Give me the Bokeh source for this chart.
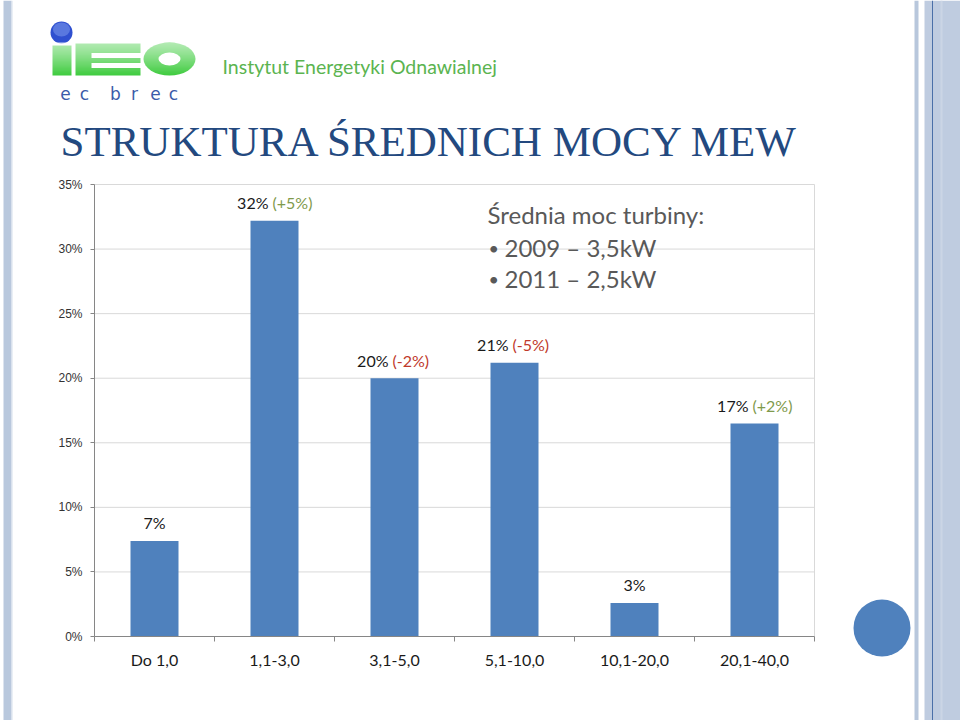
import numpy as np
from bokeh.plotting import figure
from bokeh.models import (Range1d, FixedTicker, PrintfTickFormatter, Label, ColumnDataSource)
from bokeh.core.properties import value
from bokeh.embed import file_html
from bokeh.resources import INLINE

# ---------------- data ----------------
categories = ["Do 1,0", "1,1-3,0", "3,1-5,0", "5,1-10,0", "10,1-20,0", "20,1-40,0"]
shares = [7.4, 32.2, 20.0, 21.2, 2.6, 16.5]
share_labels = ["7%", "32%", "20%", "21%", "3%", "17%"]
change_labels = ["", "(+5%)", "(-2%)", "(-5%)", "", "(+2%)"]
y_ticks = [0, 5, 10, 15, 20, 25, 30, 35]
title_text = "STRUKTURA ŚREDNICH MOCY MEW"
note_title = "Średnia moc turbiny:"
note_items = ["2009 – 3,5kW", "2011 – 2,5kW"]
org_name = "Instytut Energetyki Odnawialnej"
logo_sub = ["e", "c", "b", "r", "e", "c"]

BAR = "#4F81BD"
GRID = "#D9D9D9"
AXIS = "#868686"
FONT = "Lato"
GREEN = "#3CCB3C"

W, H = 960, 720
FL, FR, FT, FB = 94, 814, 184, 636   # chart area in page px
n = len(categories)
ymax = y_ticks[-1]
kx = (FR - FL) / n
ky = (FB - FT) / ymax

p = figure(width=W, height=H, min_border=0,
           x_range=Range1d(-FL / kx, (W - FL) / kx),
           y_range=Range1d(-(H - FB) / ky, FB / ky),
           output_backend="svg", toolbar_location=None, tools="")
p.background_fill_color = "white"
p.border_fill_color = "white"
p.outline_line_color = None
p.grid.visible = False
p.extra_x_ranges = {"page": Range1d(0, W)}
p.extra_y_ranges = {"page": Range1d(H, 0)}
PG = dict(x_range_name="page", y_range_name="page")

xs = [i + 0.5 for i in range(n)]

# gridlines and right border of the plot area
gy = y_ticks[1:]
p.segment(x0=[0] * len(gy), x1=[n] * len(gy), y0=gy, y1=gy, line_color=GRID, line_width=1)
p.segment(x0=[n], x1=[n], y0=[0], y1=[ymax], line_color=GRID, line_width=1)

# bars
src = ColumnDataSource(dict(x=xs, top=shares))
p.vbar(x="x", top="top", width=0.4, bottom=0, source=src,
       fill_color=BAR, line_color=None)

# axes placed inside the frame
ya = p.yaxis[0]
ya.fixed_location = 0
ya.bounds = (0, ymax)
ya.ticker = FixedTicker(ticks=y_ticks)
ya.formatter = PrintfTickFormatter(format="%d%%")
ya.axis_line_color = AXIS
ya.major_tick_line_color = AXIS
ya.major_tick_out = 4
ya.major_tick_in = 0
ya.minor_tick_line_color = None
ya.major_label_standoff = 8
ya.major_label_text_font = "Liberation Sans"
ya.major_label_text_font_size = "12px"
ya.major_label_text_color = "#333333"

xa = p.xaxis[0]
xa.fixed_location = 0
xa.bounds = (0, n)
xa.ticker = FixedTicker(ticks=xs, minor_ticks=list(range(n + 1)))
xa.major_label_overrides = {x: c for x, c in zip(xs, categories)}
xa.axis_line_color = AXIS
xa.major_tick_line_color = None
xa.major_tick_out = 0
xa.major_tick_in = 0
xa.minor_tick_line_color = AXIS
xa.minor_tick_out = 5
xa.minor_tick_in = 0
xa.major_label_standoff = 8
xa.major_label_text_font = FONT
xa.major_label_text_font_size = "16px"
xa.major_label_text_color = "#1A1A1A"

# value labels above bars
single = [i for i, c in enumerate(change_labels) if not c]
paired = [i for i, c in enumerate(change_labels) if c]
s1 = ColumnDataSource(dict(x=[xs[i] for i in single], y=[shares[i] for i in single],
                           t=[share_labels[i] for i in single]))
p.text(x="x", y="y", text="t", source=s1, text_align="center", text_baseline="middle",
       y_offset=-18, text_font=value(FONT), text_font_size="16px", text_color="#1A1A1A")
s2 = ColumnDataSource(dict(x=[xs[i] for i in paired], y=[shares[i] for i in paired],
                           t=[share_labels[i] for i in paired],
                           d=[change_labels[i] for i in paired],
                           c=["#C0392B" if change_labels[i].startswith("(-") else "#7F9A4C"
                              for i in paired]))
p.text(x="x", y="y", text="t", source=s2, text_align="right", text_baseline="middle",
       x_offset=-6, y_offset=-18, text_font=value(FONT), text_font_size="16px",
       text_color="#1A1A1A")
p.text(x="x", y="y", text="d", source=s2, text_align="left", text_baseline="middle",
       x_offset=-2, y_offset=-18, text_font=value(FONT), text_font_size="16px",
       text_color="c")


def lbl(x, y, text, **kw):
    p.add_layout(Label(x=x, y=y, text=text, text_baseline="middle", **PG, **kw))


# note box
NOTE = dict(text_font=FONT, text_color="#595959", text_align="left")
lbl(487, 214, note_title, text_font_size="24px", **NOTE)
for k, item in enumerate(note_items):
    yc = 247 + 31 * k
    lbl(488, yc, "•", text_font_size="18px", **NOTE)
    lbl(504, yc, item, text_font_size="24px", **NOTE)

# title and organisation name
lbl(60, 141, title_text, text_font="Liberation Serif", text_font_size="43px",
    text_color="#23497F", text_align="left")
lbl(222, 66, org_name, text_font=FONT, text_font_size="19.5px",
    text_color="#5BB450", text_align="left")
for ch, x in zip(logo_sub, [65, 84, 115, 134, 155, 173]):
    lbl(x, 93, ch, text_font="DejaVu Sans", text_font_size="17px",
        text_color="#3B5BA8", text_align="center")

# side strips
strips = [(3, 11, "#B9C8DD"), (11, 12, "#D6DFEB"),
          (914, 918, "#B8C7DC"), (924, 960, "#BFCCE0"),
          (931.5, 932.5, "#4A6FA8"), (940, 942, "#CBD5E5")]
for l, r, c in strips:
    p.quad(left=l, right=r, top=0, bottom=H, fill_color=c, line_color=None, **PG)

# bottom-right circle
p.ellipse(x=881.5, y=627.5, width=57, height=57, fill_color=BAR, line_color=None, **PG)

# logo
p.ellipse(x=61, y=32, width=22, height=22, fill_color="#2F50D0", line_color=None, **PG)
p.ellipse(x=61, y=29, width=17, height=14, fill_color="#8FA8F2", fill_alpha=0.45,
          line_color=None, **PG)
p.quad(left=52, right=71, top=45, bottom=75, fill_color=GREEN, line_color=None, **PG)
p.quad(left=75, right=140, top=43, bottom=75, fill_color=GREEN, line_color=None, **PG)
p.quad(left=91, right=141, top=52.5, bottom=57.5, fill_color="white", line_color=None, **PG)
p.quad(left=91, right=141, top=62.5, bottom=67.5, fill_color="white", line_color=None, **PG)
p.ellipse(x=169, y=58.5, width=52, height=33, fill_color=GREEN, line_color=None, **PG)
p.ellipse(x=169, y=58.5, width=22, height=13, fill_color="white", line_color=None, **PG)
# soft vertical fade on the logo (white veil, stronger at the top)
bands = np.linspace(42, 76, 35)
for a, b, al in zip(bands[:-1], bands[1:], np.linspace(0.75, 0.0, 34)):
    p.quad(left=50, right=197, top=a, bottom=b, fill_color="white", fill_alpha=al,
           line_color=None, **PG)

open("out.html", "w").write(file_html(p, INLINE))
